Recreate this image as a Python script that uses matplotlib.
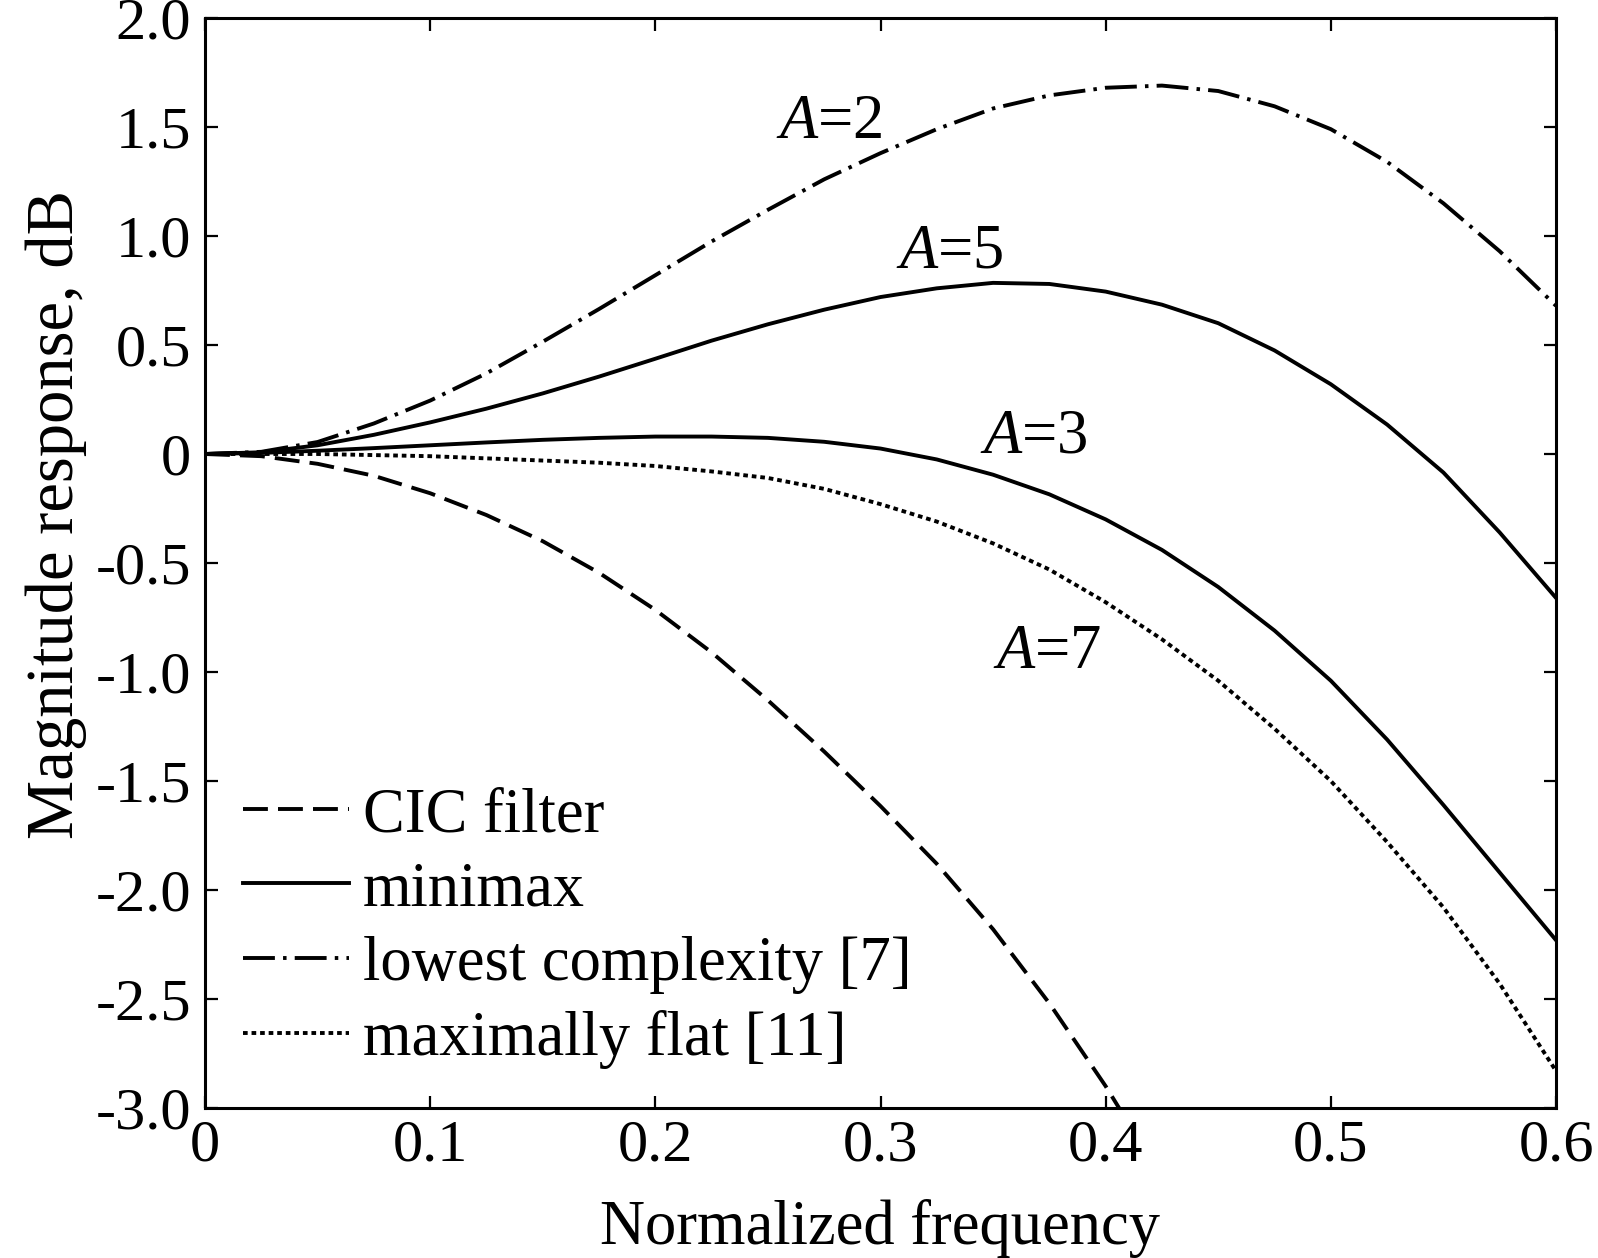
import numpy as np
import matplotlib
matplotlib.use('Agg')
import matplotlib.pyplot as plt

plt.rcParams['font.family'] = ['Liberation Serif', 'DejaVu Serif']
plt.rcParams['mathtext.fontset'] = 'custom'
plt.rcParams['mathtext.rm'] = 'Liberation Serif'
plt.rcParams['mathtext.it'] = 'Liberation Serif:italic'

# normalized frequency grid the curves were read on
freq = [0.0, 0.025, 0.05, 0.075, 0.1, 0.125, 0.15, 0.175, 0.2, 0.225, 0.25, 0.275,
        0.3, 0.325, 0.35, 0.375, 0.4, 0.425, 0.45, 0.475, 0.5, 0.525, 0.55, 0.575, 0.6]

# magnitude response, dB
cic = [0.0, -0.01, -0.045, -0.10, -0.18, -0.28, -0.40, -0.545, -0.715, -0.91, -1.13, -1.365,
       -1.615, -1.88, -2.18, -2.52, -2.90, -3.32]
minimax_a5 = [0.0, 0.008, 0.04, 0.088, 0.145, 0.208, 0.278, 0.355, 0.437, 0.52, 0.595, 0.662,
              0.72, 0.76, 0.785, 0.78, 0.745, 0.685, 0.60, 0.475, 0.32, 0.135, -0.085, -0.36, -0.66]
minimax_a3 = [0.0, 0.005, 0.015, 0.027, 0.04, 0.053, 0.065, 0.074, 0.08, 0.08, 0.074, 0.056,
              0.025, -0.025, -0.095, -0.185, -0.30, -0.44, -0.61, -0.81, -1.04, -1.31, -1.61, -1.92, -2.23]
lowest = [0.0, 0.01, 0.055, 0.14, 0.245, 0.37, 0.515, 0.665, 0.82, 0.975, 1.12, 1.26,
          1.38, 1.49, 1.585, 1.645, 1.68, 1.69, 1.665, 1.595, 1.49, 1.34, 1.15, 0.93, 0.68]
maxflat = [0.0, 0.0, 0.0, -0.005, -0.01, -0.02, -0.03, -0.04, -0.055, -0.08, -0.11, -0.16,
           -0.23, -0.31, -0.41, -0.53, -0.68, -0.85, -1.04, -1.26, -1.50, -1.78, -2.08, -2.43, -2.83]

labels = ['CIC filter', 'minimax', 'lowest complexity [7]', 'maximally flat [11]']
xticks = [0, 0.1, 0.2, 0.3, 0.4, 0.5, 0.6]
xticklabels = ['0', '0.1', '0.2', '0.3', '0.4', '0.5', '0.6']
yticks = [2.0, 1.5, 1.0, 0.5, 0, -0.5, -1.0, -1.5, -2.0, -2.5, -3.0]
yticklabels = ['2.0', '1.5', '1.0', '0.5', '0', '-0.5', '-1.0', '-1.5', '-2.0', '-2.5', '-3.0']

# curve annotations: (text, f, dB)
annots = [('$A$=2', 0.2537, 1.449), ('$A$=5', 0.3067, 0.855),
          ('$A$=3', 0.3443, 0.009), ('$A$=7', 0.3498, -0.981)]

FS = 43.5
LW = 2.8

fig = plt.figure(figsize=(15.98, 12.58), dpi=100)
ax = fig.add_axes([205/1598, 1-1108/1258, 1351/1598, 1090/1258])

f = np.array(freq)
ax.plot(f[:len(cic)], cic, color='k', lw=LW, linestyle=(0, (6.4, 2.6)), label=labels[0])
ax.plot(f, minimax_a5, color='k', lw=LW, linestyle='-', label=labels[1])
ax.plot(f, minimax_a3, color='k', lw=LW, linestyle='-')
ax.plot(f, lowest, color='k', lw=LW, linestyle=(0, (8.2, 2.1, 0.9, 2.1)), label=labels[2])
ax.plot(f, maxflat, color='k', lw=LW, linestyle=(0, (1.2, 1.0)), label=labels[3])

for txt, x, y in annots:
    ax.text(x, y, txt, fontsize=45, ha='left', va='baseline')

ax.set_xlim(0, 0.6)
ax.set_ylim(-3.0, 2.0)
ax.set_xticks(xticks)
ax.set_xticklabels(xticklabels)
ax.set_yticks(yticks)
ax.set_yticklabels(yticklabels)
ax.tick_params(direction='in', length=9, width=1.6, labelsize=FS,
               top=True, right=True, pad=8)
ax.tick_params(axis='y', pad=10)
for sp in ax.spines.values():
    sp.set_linewidth(2.2)

leg = ax.legend(loc='lower left', bbox_to_anchor=(0.028, 0.036), frameon=False,
                fontsize=45, handlelength=1.7, handletextpad=0.22,
                labelspacing=0.26, borderpad=0, borderaxespad=0)

fig.text(880/1598, 0.0, 'Normalized frequency', fontsize=45,
         ha='center', va='bottom')
fig.text(56/1598, 1-515/1258, 'Magnitude response, dB', fontsize=48,
         ha='center', va='center', rotation=90)

fig.savefig('out.png', dpi=100)
